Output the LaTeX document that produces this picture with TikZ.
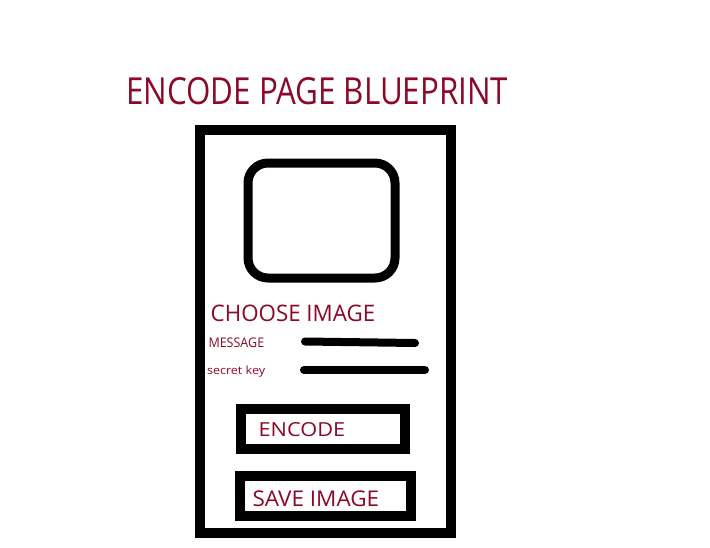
\documentclass[tikz,border=0pt]{standalone}
\usepackage{fontspec}
\setmainfont{Open Sans}
\usepackage{graphicx}
\definecolor{ink}{RGB}{140,8,40}
% scaled label: width, height above baseline, text
\newcommand{\lbl}[3]{\resizebox{#1pt}{#2pt}{#3}}
\begin{document}
\begin{tikzpicture}[x=1pt,y=-1pt,
  frame/.style={draw=black,line width=10pt},
  bar/.style={draw=black,line width=8pt,line cap=round},
  label/.style={anchor=base west,inner sep=0pt,text=ink}]
\useasboundingbox (0,0) rectangle (710,547);
\fill[white] (0,0) rectangle (710,547);

% title
\node[label] (title) at (126,104) {\lbl{382}{27}{ENCODE PAGE BLUEPRINT}};

% page outline
\draw[frame] (200,130) rectangle (451,533);

% image placeholder
\draw[draw=black,line width=9pt,rounded corners=20pt] (248,163) rectangle (395,278);

\node[label] (choose) at (210.5,321.5) {\lbl{164.5}{16.5}{CHOOSE IMAGE}};
\node[label] (msg) at (208.3,347.3) {\lbl{55.7}{9.6}{MESSAGE}};
\node[label] (key) at (206.8,374.3) {\lbl{58.2}{8.6}{secret key}};

% input fields
\draw[bar] (305,341.5) -- (415,343);
\draw[bar] (304,370) -- (425,370);

% buttons
\draw[frame] (241,409) rectangle (405,449);
\node[label] (encode) at (258.3,436.7) {\lbl{86.7}{14}{ENCODE}};

\draw[frame] (240,476) rectangle (411,516);
\node[label] (save) at (252.3,506.7) {\lbl{126.7}{15.7}{SAVE IMAGE}};
\end{tikzpicture}
\end{document}
